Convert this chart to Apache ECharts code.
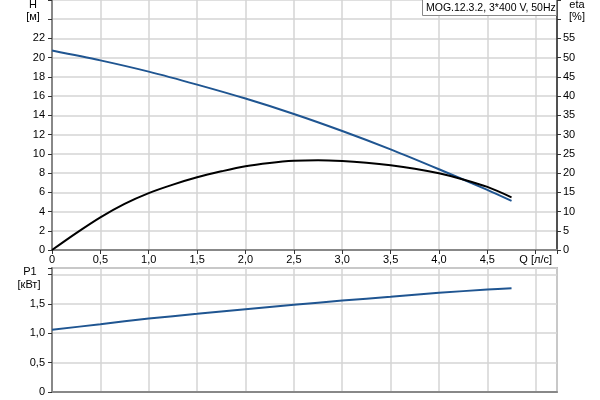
<!DOCTYPE html>
<html>
<head>
<meta charset="utf-8">
<script src="https://cdn.jsdelivr.net/npm/echarts@6/dist/echarts.min.js"></script>
<style>
  html, body { margin: 0; padding: 0; background: #fff; }
  #chart { width: 600px; height: 400px; }
</style>
</head>
<body>
<div id="chart"></div>
<script>
// Q [l/s] points
const flowQ = [0, 0.5, 1.0, 1.5, 2.0, 2.5, 3.0, 3.5, 4.0, 4.5, 4.75];
const headH = [20.75, 19.72, 18.55, 17.2, 15.75, 14.15, 12.38, 10.47, 8.4, 6.25, 5.1];
const powerP1 = [1.06, 1.153, 1.25, 1.33, 1.41, 1.483, 1.555, 1.62, 1.687, 1.744, 1.767];
// efficiency curve read at finer steps
const etaQ = [0, 0.25, 0.5, 0.75, 1.0, 1.25, 1.5, 1.75, 2.0, 2.25, 2.5, 2.75, 3.0, 3.25, 3.5, 3.75, 4.0, 4.25, 4.5, 4.75];
const effEta = [0, 4.4, 8.5, 12.0, 14.8, 17.0, 18.9, 20.45, 21.8, 22.65, 23.2, 23.35, 23.15, 22.7, 22.05, 21.15, 19.95, 18.35, 16.4, 13.7];

// tick labels
const qLabels = ['0', '0,5', '1,0', '1,5', '2,0', '2,5', '3,0', '3,5', '4,0', '4,5', 'Q [л/с]'];
const hLabels = ['0', '2', '4', '6', '8', '10', '12', '14', '16', '18', '20', '22'];
const etaLabels = ['0', '5', '10', '15', '20', '25', '30', '35', '40', '45', '50', '55'];
const p1Labels = ['0', '0,5', '1,0', '1,5'];

const blue = '#1f5591';
const gridCol = '#d4d4d4';
const axisCol = '#888';
const font = 'Liberation Sans, Arial, sans-serif';

// pick label by step index, blank if none
const byStep = (arr, step) => v => {
  const i = Math.round(v / step);
  return Math.abs(i * step - v) < 1e-6 && i < arr.length ? arr[i] : '';
};
const pairs = (xs, ys) => xs.map((q, i) => [q, ys[i]]);

const chart = echarts.init(document.getElementById('chart'));

const xBase = {
  type: 'value', min: 0, max: 5.22, interval: 0.5,
  axisLine: { onZero: false, lineStyle: { color: axisCol, width: 2 } },
  axisTick: { lineStyle: { color: '#333' }, length: 4 },
  splitLine: { lineStyle: { color: gridCol, width: 1.5 } }
};

const option = {
  animation: false,
  textStyle: { fontFamily: font },
  grid: [
    { left: 52, right: 43, top: 0, bottom: 150 },
    { left: 52, right: 43, top: 268, bottom: 8, show: true, borderColor: axisCol, borderWidth: 1.5 }
  ],
  xAxis: [
    Object.assign({}, xBase, {
      gridIndex: 0,
      axisLabel: { color: '#000', fontSize: 11, margin: 4, formatter: byStep(qLabels, 0.5) }
    }),
    Object.assign({}, xBase, {
      gridIndex: 1,
      axisTick: { show: false },
      axisLabel: { show: false }
    })
  ],
  yAxis: [
    {
      type: 'value', gridIndex: 0, position: 'left', min: 0, max: 26, interval: 2,
      axisLine: { show: true, lineStyle: { color: axisCol, width: 2 } },
      axisTick: { show: true, length: 4, lineStyle: { color: '#333' } },
      axisLabel: { color: '#000', fontSize: 11, margin: 7, formatter: byStep(hLabels, 2) },
      splitLine: { lineStyle: { color: gridCol, width: 1.5 } }
    },
    {
      type: 'value', gridIndex: 0, position: 'right', min: 0, max: 65, interval: 5,
      axisLine: { show: true, lineStyle: { color: '#222', width: 1.5 } },
      axisTick: { show: true, length: 4, lineStyle: { color: '#333' } },
      axisLabel: { color: '#000', fontSize: 11, margin: 6, formatter: byStep(etaLabels, 5) },
      splitLine: { show: false }
    },
    {
      type: 'value', gridIndex: 1, position: 'left', min: 0, max: 2.11, interval: 0.5,
      axisLine: { show: true, lineStyle: { color: axisCol, width: 2 } },
      axisTick: { show: true, length: 4, lineStyle: { color: '#333' } },
      axisLabel: { color: '#000', fontSize: 11, margin: 7, formatter: byStep(p1Labels, 0.5) },
      splitLine: { lineStyle: { color: gridCol, width: 1.5 } }
    }
  ],
  series: [
    {
      name: 'H', type: 'line', xAxisIndex: 0, yAxisIndex: 0, smooth: 0.3,
      showSymbol: false, data: pairs(flowQ, headH),
      lineStyle: { color: blue, width: 2 }, z: 3
    },
    {
      name: 'eta', type: 'line', xAxisIndex: 0, yAxisIndex: 1, smooth: 0.3,
      showSymbol: false, data: pairs(etaQ, effEta),
      lineStyle: { color: '#000', width: 2 }, z: 4
    },
    {
      name: 'P1', type: 'line', xAxisIndex: 1, yAxisIndex: 2, smooth: 0.3,
      showSymbol: false, data: pairs(flowQ, powerP1),
      lineStyle: { color: blue, width: 2 }, z: 3
    }
  ],
  graphic: [
    { type: 'rect', z: 100, shape: { x: 422.5, y: -1, width: 134, height: 16.5 },
      style: { fill: '#fff', stroke: '#888', lineWidth: 1 } },
    { type: 'text', z: 101, x: 426, y: 2.5,
      style: { text: 'MOG.12.3.2, 3*400 V, 50Hz', fill: '#000', font: '10.5px ' + font } },
    { type: 'text', x: 33, y: 5, style: { text: 'H', fill: '#000', font: '11px ' + font, align: 'center', verticalAlign: 'middle' } },
    { type: 'text', x: 33, y: 17, style: { text: '[м]', fill: '#000', font: '11px ' + font, align: 'center', verticalAlign: 'middle' } },
    { type: 'text', x: 577, y: 5, style: { text: 'eta', fill: '#000', font: '11px ' + font, align: 'center', verticalAlign: 'middle' } },
    { type: 'text', x: 577, y: 17, style: { text: '[%]', fill: '#000', font: '11px ' + font, align: 'center', verticalAlign: 'middle' } },
    { type: 'text', x: 30, y: 272, style: { text: 'P1', fill: '#000', font: '11px ' + font, align: 'center', verticalAlign: 'middle' } },
    { type: 'text', x: 29, y: 285, style: { text: '[кВт]', fill: '#000', font: '11px ' + font, align: 'center', verticalAlign: 'middle' } }
  ]
};

chart.setOption(option);
</script>
</body>
</html>
